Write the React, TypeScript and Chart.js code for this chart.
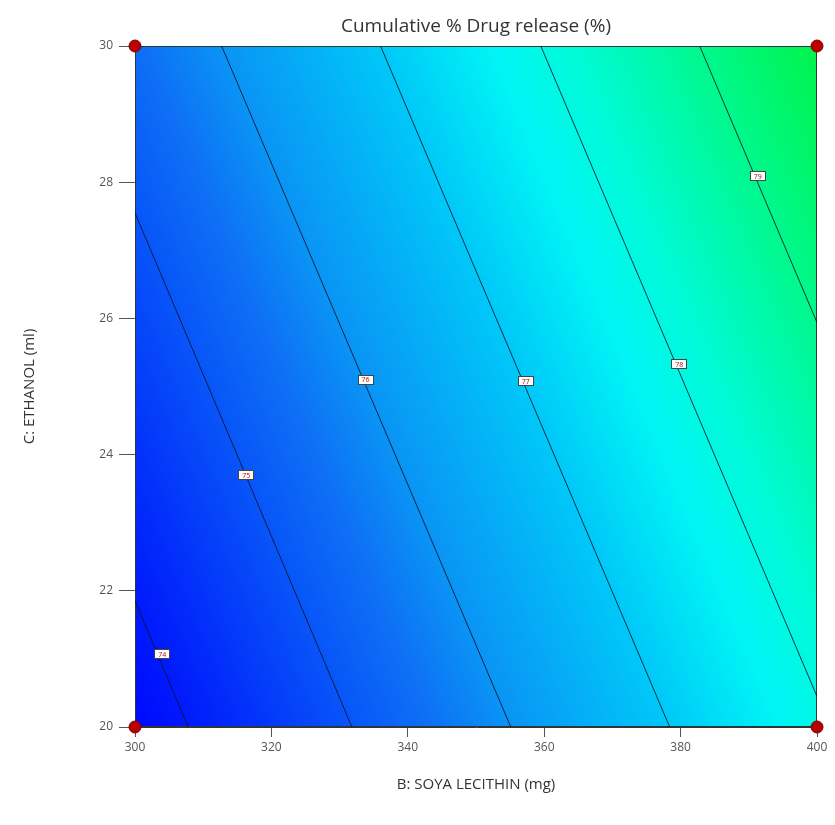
import { useEffect, useRef } from 'react';
import { Chart, registerables } from 'chart.js';

Chart.register(...registerables);

// ---- data ----
const xMin = 300;
const xMax = 400;
const xStep = 20;
const yMin = 20;
const yMax = 30;
const yStep = 2;

const contourLevels = [74, 75, 76, 77, 78, 79];
const contourStartX = [300, 300, 312.7, 336.0, 359.5, 382.8];
const contourStartY = [21.85, 27.55, 30, 30, 30, 30];
const contourEndX = [307.8, 331.8, 355.1, 378.4, 400, 400];
const contourEndY = [20, 20, 20, 20, 20.45, 25.94];

const labelX = [304.0, 316.3, 333.8, 357.3, 379.8, 391.3];
const labelY = [21.07, 23.7, 25.1, 25.08, 25.33, 28.09];

const designX = [300, 300, 400, 400];
const designY = [20, 30, 20, 30];

const titleText = 'Cumulative % Drug release (%)';
const xTitle = 'B: SOYA LECITHIN (mg)';
const yTitle = 'C: ETHANOL (ml)';

// colour map (response value -> rgb)
const COLOR_STOPS: [number, number[]][] = [
  [73.5, [0, 0, 255]],
  [74, [0, 25, 252]],
  [75, [8, 85, 248]],
  [75.5, [14, 112, 245]],
  [76, [10, 148, 245]],
  [77, [0, 200, 248]],
  [77.7, [0, 245, 245]],
  [78.2, [0, 250, 215]],
  [79, [0, 248, 140]],
  [79.9, [0, 242, 60]],
];

const FONT = "'Open Sans', 'Noto Sans', sans-serif";

function colorFor(v: number): number[] {
  if (v <= COLOR_STOPS[0][0]) return COLOR_STOPS[0][1];
  for (let i = 1; i < COLOR_STOPS.length; i++) {
    const [v1, c1] = COLOR_STOPS[i];
    if (v <= v1) {
      const [v0, c0] = COLOR_STOPS[i - 1];
      const t = (v - v0) / (v1 - v0);
      return [c0[0] + (c1[0] - c0[0]) * t, c0[1] + (c1[1] - c0[1]) * t, c0[2] + (c1[2] - c0[2]) * t];
    }
  }
  return COLOR_STOPS[COLOR_STOPS.length - 1][1];
}

function contourXAt(i: number, y: number): number {
  const x1 = contourStartX[i], y1 = contourStartY[i], x2 = contourEndX[i], y2 = contourEndY[i];
  return x1 + ((x2 - x1) * (y - y1)) / (y2 - y1);
}

function valueAt(x: number, y: number): number {
  const n = contourLevels.length;
  const xs = contourLevels.map((_, i) => contourXAt(i, y));
  let i = 0;
  if (x <= xs[0]) i = 0;
  else if (x >= xs[n - 1]) i = n - 2;
  else {
    for (let k = 0; k < n - 1; k++) {
      if (x >= xs[k] && x <= xs[k + 1]) { i = k; break; }
    }
  }
  const t = (x - xs[i]) / (xs[i + 1] - xs[i]);
  return contourLevels[i] + t * (contourLevels[i + 1] - contourLevels[i]);
}

const heatmapPlugin = {
  id: 'heatmap',
  beforeDatasetsDraw(chart: any) {
    const { ctx, chartArea, scales } = chart;
    const left = Math.round(chartArea.left), top = Math.round(chartArea.top);
    const w = Math.round(chartArea.right) - left;
    const h = Math.round(chartArea.bottom) - top;
    const img = ctx.createImageData(w, h);
    for (let py = 0; py < h; py++) {
      const yv = scales.y.getValueForPixel(top + py + 0.5);
      for (let px = 0; px < w; px++) {
        const xv = scales.x.getValueForPixel(left + px + 0.5);
        const c = colorFor(valueAt(xv, yv));
        const o = (py * w + px) * 4;
        img.data[o] = c[0];
        img.data[o + 1] = c[1];
        img.data[o + 2] = c[2];
        img.data[o + 3] = 255;
      }
    }
    ctx.putImageData(img, left, top);
    ctx.save();
    ctx.strokeStyle = '#2a3a3a';
    ctx.lineWidth = 1;
    ctx.strokeRect(left + 0.5, top + 0.5, w - 1, h - 1);
    ctx.restore();
  },
  afterDatasetsDraw(chart: any) {
    const { ctx, scales, chartArea } = chart;
    ctx.save();
    ctx.font = `7px ${FONT}`;
    ctx.textAlign = 'center';
    ctx.textBaseline = 'middle';
    for (let i = 0; i < contourLevels.length; i++) {
      const px = scales.x.getPixelForValue(labelX[i]);
      const py = scales.y.getPixelForValue(labelY[i]);
      const bw = 16, bh = 10;
      ctx.fillStyle = '#ffffff';
      ctx.fillRect(Math.round(px - bw / 2), Math.round(py - bh / 2), bw, bh);
      ctx.strokeStyle = '#444';
      ctx.lineWidth = 1;
      ctx.strokeRect(Math.round(px - bw / 2) + 0.5, Math.round(py - bh / 2) + 0.5, bw - 1, bh - 1);
      ctx.fillStyle = '#a01010';
      ctx.fillText(String(contourLevels[i]), px, py + 0.5);
    }
    // chart title centred over the plot area
    ctx.font = `19px ${FONT}`;
    ctx.fillStyle = '#333';
    ctx.textAlign = 'center';
    ctx.textBaseline = 'middle';
    ctx.fillText(titleText, (chartArea.left + chartArea.right) / 2, 27);
    ctx.restore();
  },
};

export default function App() {
  const ref = useRef<HTMLCanvasElement | null>(null);
  useEffect(() => {
    if (!ref.current) return;
    const contourSets = contourLevels.map((lvl, i) => ({
      label: `contour ${lvl}`,
      data: [
        { x: contourStartX[i], y: contourStartY[i] },
        { x: contourEndX[i], y: contourEndY[i] },
      ],
      showLine: true,
      borderColor: 'rgba(10,20,40,0.85)',
      borderWidth: 1,
      pointRadius: 0,
      order: 2,
    }));
    const chart = new Chart(ref.current, {
      type: 'scatter',
      data: {
        datasets: [
          ...contourSets,
          {
            label: 'design points',
            data: designX.map((x, i) => ({ x, y: designY[i] })),
            pointRadius: 6,
            pointBackgroundColor: '#b80000',
            pointBorderColor: '#7a0000',
            pointBorderWidth: 1,
            clip: false,
            order: 1,
          } as any,
        ],
      },
      options: {
        animation: false,
        responsive: false,
        devicePixelRatio: 1,
        layout: { padding: { left: 0, right: 18, top: 46, bottom: 0 } },
        plugins: {
          legend: { display: false },
          tooltip: { enabled: false },
          title: { display: false },
        },
        scales: {
          x: {
            type: 'linear',
            min: xMin,
            max: xMax,
            ticks: { stepSize: xStep, color: '#555', font: { family: FONT, size: 12 }, padding: 3 },
            grid: { drawOnChartArea: false, drawTicks: true, tickLength: 10, color: '#555' },
            border: { display: true, color: '#333' },
            title: {
              display: true,
              text: xTitle,
              color: '#333',
              font: { family: FONT, size: 15 },
              padding: { top: 0, bottom: 31 },
            },
            afterFit(s: any) { s.height = 98; },
          },
          y: {
            type: 'linear',
            min: yMin,
            max: yMax,
            ticks: { stepSize: yStep, color: '#555', font: { family: FONT, size: 12 }, padding: 6 },
            grid: { drawOnChartArea: false, drawTicks: true, tickLength: 16, color: '#555' },
            border: { display: true, color: '#333' },
            title: {
              display: true,
              text: yTitle,
              color: '#333',
              font: { family: FONT, size: 15 },
              padding: { top: 21, bottom: 0 },
            },
            afterFit(s: any) { s.width = 135; },
          },
        },
      },
      plugins: [heatmapPlugin],
    } as any);
    return () => chart.destroy();
  }, []);
  return (
    <div style={{ position: 'absolute', left: 0, top: 0, width: 835, height: 825, background: '#fff' }}>
      <canvas ref={ref} width={835} height={825} style={{ display: 'block' }} />
    </div>
  );
}
